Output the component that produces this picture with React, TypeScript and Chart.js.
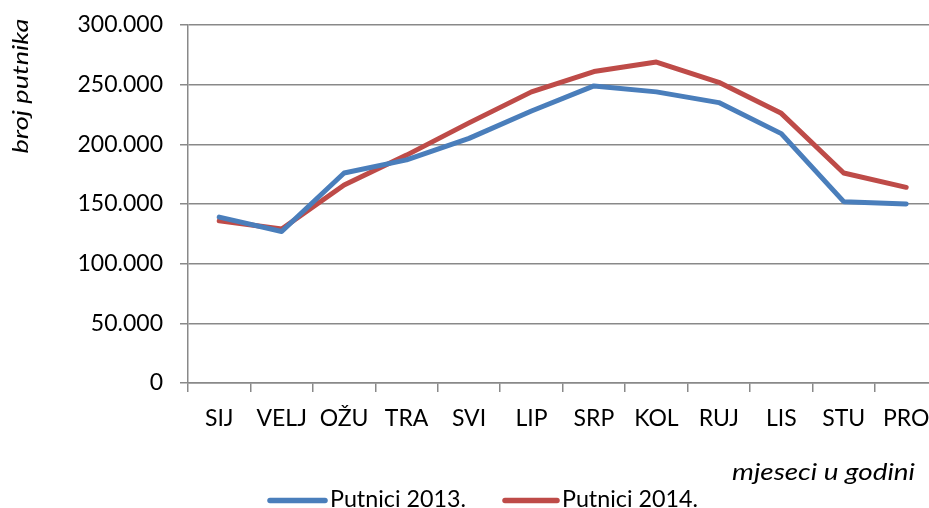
import React, { useEffect, useRef } from "react";
import { Chart, registerables } from "chart.js";

Chart.register(...registerables);

const months = ["SIJ", "VELJ", "OŽU", "TRA", "SVI", "LIP", "SRP", "KOL", "RUJ", "LIS", "STU", "PRO"];
const putnici2013 = [139000, 127000, 176000, 187000, 205000, 228000, 249000, 244000, 235000, 209000, 152000, 150000];
const putnici2014 = [136000, 129000, 166000, 191000, 218000, 244000, 261000, 269000, 252000, 226000, 176000, 164000];
const seriesNames = ["Putnici 2013.", "Putnici 2014."];
const seriesColors = ["#4A7EBB", "#BE4B48"];
const yTitle = "broj putnika";
const xTitle = "mjeseci u godini";

const FONT = "Lato, 'Open Sans', sans-serif";

function fmt(v: number): string {
  if (v === 0) return "0";
  const s = String(Math.round(v));
  return s.replace(/\B(?=(\d{3})+(?!\d))/g, ".");
}

function fitText(ctx: CanvasRenderingContext2D, text: string, x: number, y: number, targetW: number, align: "left" | "right" | "center") {
  const w = ctx.measureText(text).width;
  const s = targetW / w;
  ctx.save();
  ctx.translate(x, y);
  ctx.scale(s, 1);
  ctx.textAlign = align;
  ctx.fillText(text, 0, 0);
  ctx.restore();
}

const textPlugin = {
  id: "customText",
  afterDraw(chart: any) {
    const ctx: CanvasRenderingContext2D = chart.ctx;
    ctx.save();
    ctx.fillStyle = "#000";
    ctx.textBaseline = "alphabetic";
    // y title
    ctx.font = `italic 21px ${FONT}`;
    ctx.save();
    ctx.translate(28, 86);
    ctx.rotate(-Math.PI / 2);
    fitText(ctx, yTitle, 0, 0, 135, "center");
    ctx.restore();

    // x title
    ctx.font = `italic 23px ${FONT}`;
    fitText(ctx, xTitle, 915, 480, 183, "right");

    // legend
    ctx.font = `23px ${FONT}`;
    const items = [
      { x0: 270, x1: 325, tx: 330 },
      { x0: 505, x1: 557, tx: 562 },
    ];
    items.forEach((it, i) => {
      ctx.strokeStyle = seriesColors[i];
      ctx.lineWidth = 5.5;
      ctx.lineCap = "round";
      ctx.beginPath();
      ctx.moveTo(it.x0, 500.5);
      ctx.lineTo(it.x1, 500.5);
      ctx.stroke();
      ctx.fillStyle = "#000";
      fitText(ctx, seriesNames[i], it.tx, 507, 136, "left");
    });
    ctx.restore();
  },
};

export default function App() {
  const ref = useRef<HTMLCanvasElement | null>(null);
  useEffect(() => {
    if (!ref.current) return;
    const mk = (i: number, data: number[]) => ({
      label: seriesNames[i],
      data,
      borderColor: seriesColors[i],
      backgroundColor: seriesColors[i],
      borderWidth: 5,
      pointRadius: 0,
      tension: 0,
      borderJoinStyle: "round" as const,
      borderCapStyle: "round" as const,
    });
    const chart = new Chart(ref.current, {
      type: "line",
      data: {
        labels: months,
        datasets: [mk(0, putnici2013), mk(1, putnici2014)],
      },
      options: {
        responsive: false,
        animation: false,
        layout: { padding: { left: 0, top: 23, right: 7.6, bottom: 0 } },
        plugins: {
          legend: { display: false },
          tooltip: { enabled: false },
        },
        scales: {
          x: {
            offset: true,
            grid: {
              offset: true,
              drawOnChartArea: false,
              drawTicks: true,
              tickLength: 9,
              color: "#898989",
              lineWidth: 1.5,
            },
            border: { color: "#898989", width: 1.5 },
            ticks: {
              color: "#000",
              font: { family: FONT, size: 23 },
              padding: 13,
              maxRotation: 0,
              autoSkip: false,
            },
            afterFit(scale: any) {
              scale.height = 125;
            },
          },
          y: {
            min: 0,
            max: 300000,
            grid: {
              color: "#898989",
              lineWidth: 1.5,
              tickLength: 8,
            },
            border: { color: "#898989", width: 1.5 },
            ticks: {
              stepSize: 50000,
              color: "#000",
              font: { family: FONT, size: 23, lineHeight: 0.7 },
              padding: 17,
              callback: (v: any) => fmt(Number(v)),
            },
            afterFit(scale: any) {
              scale.width = 188;
            },
          },
        },
      },
      plugins: [textPlugin],
    });
    return () => chart.destroy();
  }, []);
  return (
    <div style={{ position: "fixed", left: 0, top: 0, width: 929, height: 508, overflow: "hidden", background: "#fff" }}>
      <canvas ref={ref} width={945} height={508} style={{ width: 945, height: 508, display: "block" }} />
    </div>
  );
}
